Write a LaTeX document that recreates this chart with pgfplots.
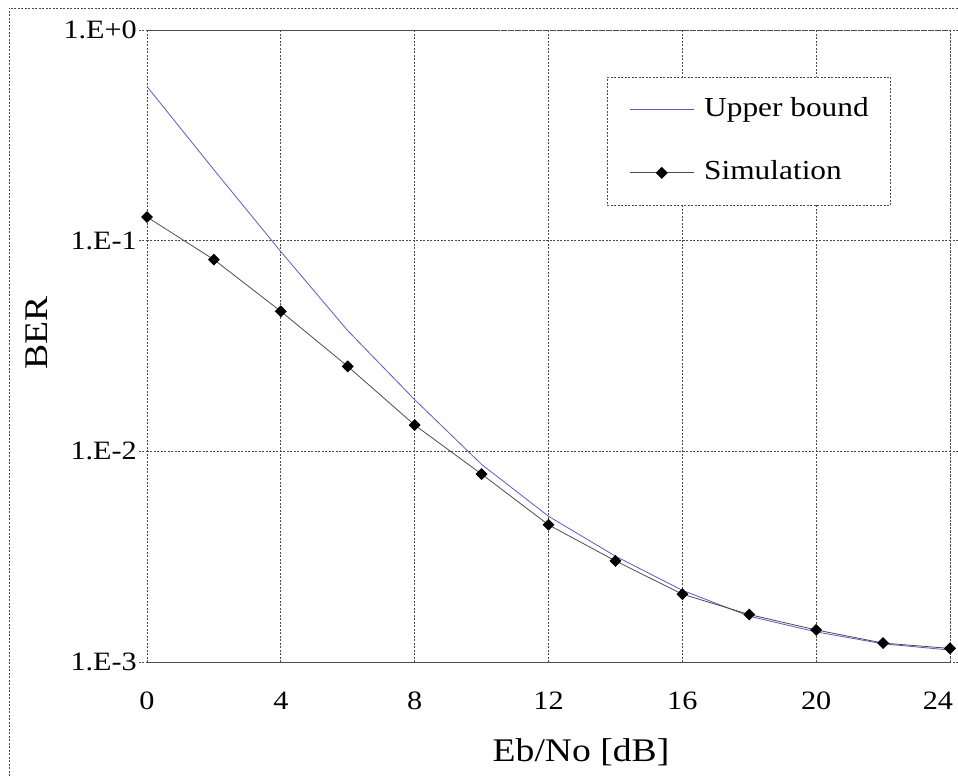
\documentclass[border=0pt]{standalone}
\usepackage{fontspec}
\setmainfont{Liberation Serif}[FakeStretch=1.14]
\usepackage{pgfplots}
\pgfplotsset{compat=1.18}

\definecolor{boundblue}{RGB}{90,90,200}
\definecolor{gridgray}{RGB}{75,75,75}

\begin{document}
\begin{tikzpicture}
\tikzset{gridline/.style={gridgray, line width=0.7bp, dash pattern=on 2bp off 1.5bp}}
\path[use as bounding box] (-147bp,-114bp) rectangle (811bp,662bp);
\draw[gridline] (-138bp,-114bp) -- (-138bp,654bp) -- (811bp,654bp);
\begin{axis}[
    at={(0,0)}, anchor=south west,
    scale only axis,
    width=803bp, height=632bp,
    ymode=log,
    xmin=0, xmax=24, ymin=1e-3, ymax=1,
    xtick={0,4,...,24},
    xticklabels={0,4,8,12,16,20,{\makebox[6bp][r]{24}}},
    ytick={1e-3,1e-2,1e-1,1},
    yticklabels={1.E-3,1.E-2,1.E-1,1.E+0},
    yminorticks=false,
    grid=major,
    major grid style={gridline},
    axis line style={gridline},
    tick align=outside,
    major tick length=8bp,
    xtick style={draw=none},
    ytick style={gridline},
    tick label style={font=\fontsize{26.5bp}{30bp}\selectfont},
    xticklabel style={anchor=north, inner sep=0pt, yshift=-22bp},
    yticklabel style={anchor=east, inner sep=0pt, xshift=-2bp},
    xlabel={Eb/No [dB]},
    ylabel={BER},
    label style={font=\fontsize{33bp}{36bp}\selectfont},
    xlabel style={at={(axis description cs:0.5405,-0.158)}, anchor=base},
    ylabel style={at={(axis description cs:-0.1370,0.5206)}, anchor=center},
    legend cell align=left,
    legend image code/.code={\draw[mark repeat=2,mark phase=2] plot coordinates {(0bp,0bp) (32bp,0bp) (64bp,0bp)};},
    legend style={at={(rel axis cs:0.5729,0.9256)}, anchor=north west,
        draw=gridgray, line width=0.7bp, dash pattern=on 2bp off 1.5bp,
        fill=white,
        font=\fontsize{27.5bp}{30bp}\selectfont,
        inner xsep=22bp, inner ysep=20bp,
        column sep=10bp, row sep=38bp,
        nodes={inner sep=0pt, text height=19bp, text depth=6bp}},
]
% upper bound
\addplot[boundblue, solid, line width=0.8bp, no marks] coordinates {
    (0,0.539) (2,0.217) (4,0.0887) (6,0.0374) (8,0.0176) (10,0.00867)
    (12,0.00492) (14,0.00318) (16,0.00219) (18,0.00165) (20,0.00139)
    (22,0.00122) (24,0.00114)
};
\addlegendentry{Upper bound}
% simulation
\addplot[gray!60!black, solid, line width=0.8bp, mark=square*, mark size=3.8bp,
    mark options={rotate=45, fill=black, draw=black, solid}] coordinates {
    (0,0.1295) (2,0.0813) (4,0.0462) (6,0.0253) (8,0.01333) (10,0.0078)
    (12,0.00448) (14,0.00302) (16,0.0021) (18,0.00168) (20,0.00142)
    (22,0.00123) (24,0.00116)
};
\addlegendentry{Simulation}
\end{axis}
\end{tikzpicture}
\end{document}
